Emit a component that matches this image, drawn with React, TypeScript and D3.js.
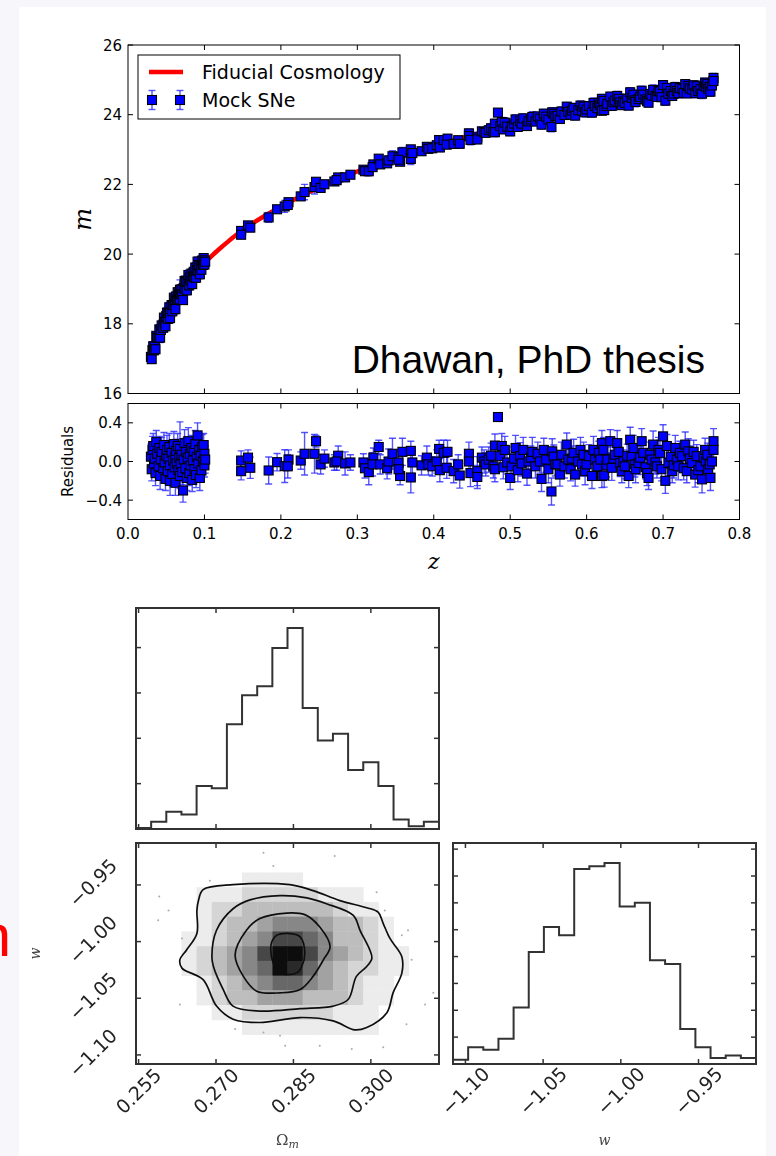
import React from "react";
import * as d3 from "d3";

// ---------- Top panel: Hubble diagram ----------
const zTicks = [0.0, 0.1, 0.2, 0.3, 0.4, 0.5, 0.6, 0.7, 0.8];
const mTicks = [16, 18, 20, 22, 24, 26];
const resTicks = [-0.4, 0.0, 0.4];

// fiducial cosmology curve (z, m)
const fidZ = [0.03, 0.04, 0.05, 0.06, 0.07, 0.08, 0.09, 0.1, 0.125, 0.15, 0.2, 0.25, 0.3, 0.35, 0.4, 0.45, 0.5, 0.55, 0.6, 0.65, 0.7, 0.767];
const fidM = [17.0, 17.65, 18.16, 18.57, 18.92, 19.22, 19.49, 19.74, 20.25, 20.69, 21.36, 21.91, 22.37, 22.76, 23.1, 23.41, 23.69, 23.94, 24.18, 24.39, 24.59, 24.85];

// mock SNe: [z, residual, error]
const snLowZ: [number, number, number][] = [
  [0.030, 0.05, 0.13], [0.031, -0.08, 0.12], [0.032, 0.12, 0.14], [0.033, 0.16, 0.13], [0.034, -0.02, 0.12],
  [0.035, 0.03, 0.15], [0.036, -0.12, 0.13], [0.037, 0.20, 0.12], [0.038, 0.08, 0.14], [0.040, -0.05, 0.13],
  [0.041, 0.14, 0.12], [0.042, -0.15, 0.14], [0.043, 0.02, 0.13], [0.044, 0.10, 0.15], [0.046, -0.07, 0.12],
  [0.047, 0.17, 0.13], [0.048, -0.01, 0.14], [0.049, -0.18, 0.12], [0.050, 0.06, 0.13], [0.051, 0.12, 0.15],
  [0.052, -0.10, 0.13], [0.053, 0.03, 0.12], [0.054, 0.15, 0.14], [0.055, -0.04, 0.13], [0.055, -0.20, 0.15],
  [0.057, 0.09, 0.12], [0.058, -0.13, 0.13], [0.059, 0.01, 0.14], [0.060, 0.18, 0.13], [0.061, -0.06, 0.12],
  [0.062, 0.05, 0.15], [0.062, -0.22, 0.13], [0.063, 0.11, 0.12], [0.064, -0.02, 0.14], [0.065, 0.16, 0.13],
  [0.066, -0.09, 0.12], [0.067, 0.04, 0.15], [0.068, -0.15, 0.13], [0.068, 0.13, 0.28], [0.069, -0.03, 0.12],
  [0.070, 0.07, 0.14], [0.071, -0.11, 0.13], [0.072, -0.30, 0.12], [0.073, 0.02, 0.13], [0.074, 0.19, 0.14],
  [0.075, -0.07, 0.12], [0.076, 0.10, 0.15], [0.077, -0.17, 0.13], [0.078, 0.04, 0.12], [0.079, 0.21, 0.14],
  [0.080, -0.12, 0.13], [0.081, 0.08, 0.12], [0.082, -0.04, 0.15], [0.083, 0.14, 0.13], [0.084, -0.19, 0.12],
  [0.085, 0.01, 0.14], [0.086, 0.11, 0.13], [0.087, -0.08, 0.12], [0.088, 0.18, 0.14], [0.089, -0.14, 0.13],
  [0.090, 0.05, 0.12], [0.091, 0.27, 0.13], [0.092, -0.02, 0.14], [0.093, 0.12, 0.12], [0.094, -0.17, 0.13],
  [0.095, 0.06, 0.15], [0.096, -0.09, 0.12], [0.097, 0.15, 0.13], [0.098, 0.00, 0.14], [0.099, 0.17, 0.12],
  [0.100, 0.08, 0.13], [0.100, -0.04, 0.12], [0.101, 0.02, 0.14],
];

const snMidZ: [number, number, number][] = [
  [0.148, 0.01, 0.10], [0.148, -0.10, 0.09], [0.157, 0.04, 0.08], [0.160, -0.065, 0.11], [0.184, -0.093, 0.14],
  [0.195, -0.007, 0.09], [0.205, -0.048, 0.17], [0.210, 0.02, 0.10], [0.209, -0.05, 0.12], [0.226, 0.01, 0.09],
  [0.231, 0.08, 0.22], [0.244, 0.08, 0.20], [0.246, 0.21, 0.06], [0.252, -0.03, 0.10], [0.257, 0.03, 0.09],
  [0.270, -0.01, 0.08], [0.275, 0.06, 0.10], [0.273, 0.00, 0.09], [0.284, -0.02, 0.12], [0.291, -0.01, 0.08],
  [0.308, -0.01, 0.09], [0.310, -0.07, 0.10], [0.315, -0.11, 0.13], [0.321, 0.04, 0.10], [0.320, -0.03, 0.12],
  [0.328, 0.15, 0.07], [0.330, -0.03, 0.10], [0.339, -0.07, 0.11], [0.341, 0.00, 0.13], [0.346, 0.08, 0.16],
  [0.354, -0.01, 0.12], [0.356, -0.15, 0.09], [0.359, 0.10, 0.14], [0.354, -0.08, 0.10], [0.370, 0.11, 0.10],
  [0.370, -0.165, 0.16], [0.372, -0.01, 0.12], [0.384, -0.04, 0.10], [0.391, 0.04, 0.12], [0.393, -0.03, 0.11],
  [0.398, -0.05, 0.10], [0.404, 0.00, 0.12], [0.407, 0.13, 0.09], [0.408, -0.09, 0.12], [0.413, 0.09, 0.13],
];

const snHighZ: [number, number, number][] = [
  [0.418, 0.10, 0.12], [0.417, -0.065, 0.11], [0.426, -0.10, 0.12], [0.432, -0.03, 0.10], [0.434, -0.145, 0.13],
  [0.446, 0.08, 0.12], [0.446, 0.00, 0.11], [0.448, -0.12, 0.14], [0.457, -0.10, 0.15], [0.457, -0.16, 0.12],
  [0.463, 0.04, 0.11], [0.466, 0.00, 0.12], [0.468, -0.03, 0.12], [0.472, 0.02, 0.13], [0.475, 0.06, 0.13],
  [0.478, -0.05, 0.12], [0.480, 0.165, 0.12], [0.480, -0.08, 0.13], [0.484, 0.46, 0.03], [0.487, 0.055, 0.12],
  [0.489, 0.16, 0.13], [0.491, -0.06, 0.12], [0.493, 0.12, 0.14], [0.496, -0.01, 0.12], [0.500, -0.17, 0.12],
  [0.502, -0.05, 0.13], [0.505, 0.03, 0.12], [0.507, 0.14, 0.13], [0.510, -0.09, 0.12], [0.513, 0.055, 0.14],
  [0.515, -0.02, 0.13], [0.517, 0.12, 0.13], [0.522, -0.125, 0.12], [0.524, 0.00, 0.13], [0.527, 0.04, 0.12],
  [0.529, 0.10, 0.15], [0.533, -0.05, 0.12], [0.536, 0.08, 0.12], [0.539, 0.00, 0.12], [0.541, -0.18, 0.13],
  [0.544, 0.12, 0.12], [0.547, 0.02, 0.13], [0.550, -0.08, 0.14], [0.554, -0.31, 0.14], [0.555, 0.105, 0.13],
  [0.557, 0.05, 0.12], [0.559, -0.03, 0.12], [0.562, -0.03, 0.11], [0.565, -0.135, 0.12], [0.567, 0.07, 0.13],
  [0.571, -0.05, 0.12], [0.574, 0.175, 0.12], [0.576, 0.02, 0.13], [0.579, -0.08, 0.12], [0.581, 0.03, 0.13],
  [0.583, 0.09, 0.14], [0.585, -0.135, 0.12], [0.589, 0.00, 0.12], [0.592, 0.12, 0.13], [0.594, -0.03, 0.12],
  [0.596, 0.07, 0.13], [0.598, -0.10, 0.14], [0.600, -0.03, 0.12], [0.603, 0.055, 0.12], [0.607, -0.15, 0.13],
  [0.609, 0.12, 0.14], [0.611, 0.02, 0.13], [0.614, -0.05, 0.12], [0.616, 0.09, 0.12], [0.618, 0.02, 0.13],
  [0.620, 0.19, 0.13], [0.620, -0.15, 0.12],
];

const snEdgeZ: [number, number, number][] = [
  [0.622, 0.12, 0.13], [0.623, -0.145, 0.12], [0.626, -0.04, 0.12], [0.627, 0.02, 0.13], [0.631, 0.21, 0.12],
  [0.633, -0.065, 0.13], [0.635, 0.03, 0.12], [0.637, 0.07, 0.12], [0.640, 0.19, 0.13], [0.642, 0.10, 0.13],
  [0.644, -0.015, 0.14], [0.646, -0.10, 0.12], [0.648, 0.00, 0.12], [0.650, -0.05, 0.13], [0.653, 0.06, 0.12],
  [0.655, -0.15, 0.12], [0.657, 0.225, 0.13], [0.659, 0.055, 0.12], [0.661, 0.14, 0.13], [0.663, -0.03, 0.13],
  [0.664, -0.08, 0.14], [0.668, -0.015, 0.12], [0.670, 0.04, 0.12], [0.672, 0.21, 0.13], [0.674, 0.09, 0.12],
  [0.677, -0.06, 0.12], [0.679, -0.12, 0.13], [0.681, -0.17, 0.12], [0.683, 0.07, 0.13], [0.685, 0.02, 0.13],
  [0.687, 0.175, 0.14], [0.690, -0.01, 0.12], [0.692, -0.05, 0.12], [0.694, 0.12, 0.13], [0.696, 0.09, 0.13],
  [0.698, -0.08, 0.12], [0.700, 0.26, 0.12], [0.703, -0.20, 0.13], [0.705, 0.16, 0.12], [0.707, -0.015, 0.13],
  [0.710, 0.05, 0.12], [0.712, -0.10, 0.12], [0.714, -0.04, 0.13], [0.716, 0.14, 0.13], [0.718, 0.02, 0.12],
  [0.720, -0.05, 0.14], [0.722, 0.09, 0.12], [0.725, 0.055, 0.12], [0.727, -0.07, 0.12], [0.729, 0.175, 0.13],
  [0.731, -0.10, 0.12], [0.733, 0.105, 0.13], [0.735, 0.03, 0.13], [0.738, -0.015, 0.12], [0.740, 0.10, 0.12],
  [0.742, -0.135, 0.13], [0.744, 0.055, 0.12], [0.746, -0.09, 0.13], [0.749, -0.05, 0.13], [0.751, -0.185, 0.14],
  [0.753, 0.04, 0.12], [0.755, 0.12, 0.12], [0.756, 0.00, 0.13], [0.758, 0.07, 0.12], [0.759, -0.08, 0.12],
  [0.761, -0.03, 0.13], [0.762, -0.17, 0.13], [0.764, 0.00, 0.12], [0.766, 0.21, 0.13], [0.766, 0.12, 0.12],
];

// ---------- Corner plot ----------
const omLim = [0.2545, 0.3132];
const wLim = [-1.108, -0.913];
const omTicks = [0.255, 0.27, 0.285, 0.3];
const omTickLabels = ["0.255", "0.270", "0.285", "0.300"];
const wTicks = [-1.1, -1.05, -1.0, -0.95];
const wTickLabels = ["\u22121.10", "\u22121.05", "\u22121.00", "\u22120.95"];

const omHistCounts = [2, 16, 38, 32, 95, 90, 231, 295, 315, 399, 443, 267, 195, 210, 130, 147, 95, 21, 6, 16];
const wHistCounts = [16, 62, 53, 94, 210, 417, 510, 479, 726, 736, 748, 586, 600, 386, 372, 130, 62, 22, 32, 22];
const omHistTicks = [0, 100, 200, 300, 400];
const wHistTicks = [0, 100, 200, 300, 400, 500, 600, 700, 800];

// 2D density (rows from top = high w, columns from low Ωm), grey level 0..9
const densityRows = [
  "00000000000000000000",
  "00000000000000000000",
  "00000001111000000000",
  "00001112222211100000",
  "00001223333332110000",
  "00001233455543321000",
  "00011234577653321000",
  "00012345799754321100",
  "00012345698643221100",
  "00001234566543211000",
  "00001233444333211000",
  "00000112222221110000",
  "00000001111111110000",
  "00000000000000000000",
  "00000000000000000000",
];

// contour lines [Ωm, w], outermost first
const contourOuter: [number, number][] = [
  [0.2666, -0.9638], [0.2675, -0.9542], [0.2733, -0.9498], [0.2843, -0.9498], [0.2888, -0.955], [0.294, -0.9638],
  [0.2992, -0.9701], [0.3014, -0.974], [0.3024, -0.9841], [0.3037, -0.9972], [0.306, -1.0133], [0.306, -1.0278],
  [0.3043, -1.0452], [0.3031, -1.0627], [0.2992, -1.0758], [0.2969, -1.0779], [0.2927, -1.07], [0.2863, -1.067],
  [0.2785, -1.0714], [0.2733, -1.0685], [0.2701, -1.0569], [0.2675, -1.0336], [0.2634, -1.0234], [0.263, -1.0161],
  [0.2643, -1.0074], [0.2663, -0.9928], [0.2663, -0.9725],
];
const contourMid2: [number, number][] = [
  [0.2692, -1.0133], [0.2701, -0.99], [0.2733, -0.971], [0.2766, -0.9632], [0.2824, -0.9594], [0.2876, -0.9614],
  [0.2914, -0.9666], [0.2966, -0.9769], [0.2979, -0.99], [0.2998, -1.0074], [0.3002, -1.0147], [0.2992, -1.022],
  [0.2972, -1.0307], [0.2956, -1.0511], [0.2927, -1.0569], [0.2863, -1.0592], [0.2785, -1.0613], [0.2733, -1.0569],
  [0.2714, -1.0423], [0.2695, -1.022],
];
const contourMid1: [number, number][] = [
  [0.2737, -1.0118], [0.2759, -0.99], [0.2785, -0.9797], [0.2837, -0.9748], [0.2872, -0.9762], [0.2901, -0.9871],
  [0.2921, -1.0045], [0.2908, -1.0161], [0.2888, -1.0307], [0.2863, -1.0423], [0.2824, -1.0452], [0.2779, -1.0438],
  [0.2753, -1.0307],
];
const contourInner: [number, number][] = [
  [0.2808, -1.0002], [0.2818, -0.9943], [0.284, -0.9928], [0.2863, -0.9958], [0.2872, -1.0103], [0.2866, -1.022],
  [0.2856, -1.0278], [0.2824, -1.0278], [0.2811, -1.019], [0.2806, -1.0074],
];

// faint individual samples outside the contours
const outlierSamples: [number, number][] = [
  [0.2792, -0.9216], [0.293, -0.9245], [0.2811, -0.9332], [0.2688, -0.9463], [0.3011, -0.9565], [0.259, -0.9603],
  [0.2608, -0.9725], [0.2588, -0.9812], [0.3072, -0.99], [0.3079, -1.0161], [0.3121, -1.0452], [0.263, -1.0554],
  [0.3105, -1.0554], [0.2737, -1.0772], [0.2792, -1.0801], [0.2824, -1.0831], [0.2901, -1.0918], [0.2834, -1.0918],
  [0.2963, -1.0947], [0.3024, -1.0932], [0.3069, -1.0729], [0.3027, -0.9725], [0.306, -0.9943], [0.2634, -0.9972],
];

// ---------- geometry ----------
const W = 776;
const H = 1156;
const TOP = { l: 128, r: 739.5, t: 45, b: 393.5 };
const RES = { t: 403.5, b: 519.5 };
const C_HIST_OM = { l: 136, r: 439, t: 608, b: 829 };
const C_2D = { l: 136, r: 439, t: 843, b: 1064 };
const C_HIST_W = { l: 453, r: 756, t: 843, b: 1064 };

const SANS = "'DejaVu Sans', 'Bitstream Vera Sans', sans-serif";
const SERIF = "'DejaVu Serif', 'Liberation Serif', serif";

function fmt1(v: number) {
  const s = Math.abs(v).toFixed(1);
  return v < -1e-9 ? "\u2212" + s : s;
}

function Frame({ box, stroke = "#000", width = 1 }: any) {
  return (
    <rect x={box.l} y={box.t} width={box.r - box.l} height={box.b - box.t} fill="none" stroke={stroke} strokeWidth={width} />
  );
}

function XTicks({ scale, ticks, box, len = 5, stroke = "#000", width = 1 }: any) {
  return (
    <g stroke={stroke} strokeWidth={width}>
      {ticks.map((t: number, i: number) => {
        const x = scale(t);
        if (x < box.l + 0.5 || x > box.r - 0.5) return null;
        return (
          <g key={i}>
            <line x1={x} x2={x} y1={box.b} y2={box.b - len} />
            <line x1={x} x2={x} y1={box.t} y2={box.t + len} />
          </g>
        );
      })}
    </g>
  );
}

function YTicks({ scale, ticks, box, len = 5, stroke = "#000", width = 1 }: any) {
  return (
    <g stroke={stroke} strokeWidth={width}>
      {ticks.map((t: number, i: number) => {
        const y = scale(t);
        return (
          <g key={i}>
            <line x1={box.l} x2={box.l + len} y1={y} y2={y} />
            <line x1={box.r} x2={box.r - len} y1={y} y2={y} />
          </g>
        );
      })}
    </g>
  );
}

export default function App() {
  const allSN = [...snLowZ, ...snMidZ, ...snHighZ, ...snEdgeZ];

  const xTop = d3.scaleLinear().domain([0, 0.8]).range([TOP.l, TOP.r]);
  const yTop = d3.scaleLinear().domain([16, 26]).range([TOP.b, TOP.t]);
  const yRes = d3.scaleLinear().domain([-0.6, 0.6]).range([RES.b, RES.t]);
  const fidInterp = d3.scaleLinear().domain(fidZ).range(fidM);

  const fidLine = d3
    .line<number>()
    .x((_, i) => xTop(fidZ[i]))
    .y((_, i) => yTop(fidM[i]))
    .curve(d3.curveMonotoneX)(fidZ);

  const omX = d3.scaleLinear().domain(omLim).range([C_2D.l, C_2D.r]);
  const wY = d3.scaleLinear().domain(wLim).range([C_2D.b, C_2D.t]);
  const wX = d3.scaleLinear().domain(wLim).range([C_HIST_W.l, C_HIST_W.r]);
  const omHistY = d3.scaleLinear().domain([0, d3.max(omHistCounts)! * 1.1]).range([C_HIST_OM.b, C_HIST_OM.t]);
  const wHistY = d3.scaleLinear().domain([0, d3.max(wHistCounts)! * 1.1]).range([C_HIST_W.b, C_HIST_W.t]);

  const grey = d3
    .scaleLinear<string>()
    .domain([0, 1, 3, 5, 7, 9])
    .range(["#ffffff", "#ececec", "#bdbdbd", "#878787", "#474747", "#0a0a0a"]);

  const nCols = densityRows[0].length;
  const nRows = densityRows.length;
  const omStep = (omLim[1] - omLim[0]) / nCols;
  const wStep = (wLim[1] - wLim[0]) / nRows;

  const stepPath = (counts: number[], lim: number[], sx: any, sy: any) => {
    const n = counts.length;
    const step = (lim[1] - lim[0]) / n;
    const pts: [number, number][] = [[sx(lim[0]), sy(0)]];
    counts.forEach((c, i) => {
      pts.push([sx(lim[0] + i * step), sy(c)]);
      pts.push([sx(lim[0] + (i + 1) * step), sy(c)]);
    });
    pts.push([sx(lim[1]), sy(0)]);
    return d3.line()(pts);
  };

  const contourPath = (pts: [number, number][]) =>
    d3
      .line<[number, number]>()
      .x((d) => omX(d[0]))
      .y((d) => wY(d[1]))
      .curve(d3.curveCatmullRomClosed.alpha(0.5))(pts);

  const barColor = "#2b2bff";
  const capW = 3.5;
  const sq = 9;

  const renderErrBars = (errScale: (d: [number, number, number]) => [number, number]) =>
    allSN.map((d, i) => {
      const x = xTop(d[0]);
      const [lo, hi] = errScale(d);
      return (
        <g key={i}>
          <line x1={x} x2={x} y1={lo} y2={hi} />
          <line x1={x - capW} x2={x + capW} y1={lo} y2={lo} />
          <line x1={x - capW} x2={x + capW} y1={hi} y2={hi} />
        </g>
      );
    });

  const cornerStroke = "#333";

  return (
    <svg
      width={W}
      height={H}
      viewBox={`0 0 ${W} ${H}`}
      style={{ position: "absolute", left: 0, top: 0, display: "block" }}
    >
      <defs>
        <filter id="soft" x="-5%" y="-5%" width="110%" height="110%">
          <feGaussianBlur stdDeviation="0.55" />
        </filter>
        <clipPath id="clipTop">
          <rect x={TOP.l} y={TOP.t} width={TOP.r - TOP.l} height={TOP.b - TOP.t} />
        </clipPath>
        <clipPath id="clipRes">
          <rect x={TOP.l} y={RES.t} width={TOP.r - TOP.l} height={RES.b - RES.t} />
        </clipPath>
        <clipPath id="clip2d">
          <rect x={C_2D.l} y={C_2D.t} width={C_2D.r - C_2D.l} height={C_2D.b - C_2D.t} />
        </clipPath>
      </defs>

      <rect x={0} y={0} width={W} height={H} fill="#f7f7fb" />
      <rect x={19} y={7} width={747} height={H - 7} fill="#ffffff" />

      {/* red partial glyph at the far left */}
      <text x={11} y={956} textAnchor="end" fontFamily="'Liberation Sans', Arial, sans-serif" fontSize={60} fill="#ff0000">
        n
      </text>

      {/* ================= TOP PANEL ================= */}
      <rect x={TOP.l} y={TOP.t} width={TOP.r - TOP.l} height={TOP.b - TOP.t} fill="#fff" />
      <g clipPath="url(#clipTop)">
        <path d={fidLine || ""} fill="none" stroke="#ff0000" strokeWidth={4.5} />
        <g stroke={barColor} strokeOpacity={0.8} strokeWidth={1.4}>
          {renderErrBars((d) => {
            const m = fidInterp(d[0]) + d[1];
            return [yTop(m - d[2]), yTop(m + d[2])];
          })}
        </g>
        <g fill="#0000ff" stroke="#000" strokeWidth={1.1}>
          {allSN.map((d, i) => {
            const x = xTop(d[0]);
            const y = yTop(fidInterp(d[0]) + d[1]);
            return <rect key={i} x={x - sq / 2} y={y - sq / 2} width={sq} height={sq} />;
          })}
        </g>
      </g>
      <XTicks scale={xTop} ticks={zTicks} box={TOP} />
      <YTicks scale={yTop} ticks={mTicks} box={TOP} />
      <Frame box={TOP} />
      <g fontFamily={SANS} fontSize={15} fill="#000" textAnchor="end">
        {mTicks.map((t) => (
          <text key={t} x={TOP.l - 6} y={yTop(t) + 5.5}>
            {t}
          </text>
        ))}
      </g>
      <text
        transform={`translate(${91},${(TOP.t + TOP.b) / 2}) rotate(-90)`}
        textAnchor="middle"
        fontFamily={SERIF}
        fontStyle="italic"
        fontSize={24}
      >
        m
      </text>
      <text x={705} y={373} textAnchor="end" fontFamily="'Liberation Sans', Arial, Helvetica, sans-serif" fontSize={39} fill="#000">
        Dhawan, PhD thesis
      </text>

      {/* legend */}
      <g>
        <rect x={138} y={55} width={262} height={64} fill="#fff" stroke="#000" strokeWidth={1} />
        <line x1={149} x2={183} y1={72} y2={72} stroke="#ff0000" strokeWidth={4.5} />
        <text x={202} y={79} fontFamily={SANS} fontSize={19}>
          Fiducial Cosmology
        </text>
        <g stroke={barColor} strokeOpacity={0.8} strokeWidth={1.4}>
          {[152, 180].map((x) => (
            <g key={x}>
              <line x1={x} x2={x} y1={90.5} y2={109.5} />
              <line x1={x - capW} x2={x + capW} y1={90.5} y2={90.5} />
              <line x1={x - capW} x2={x + capW} y1={109.5} y2={109.5} />
            </g>
          ))}
        </g>
        <g fill="#0000ff" stroke="#000" strokeWidth={1.1}>
          {[152, 180].map((x) => (
            <rect key={x} x={x - sq / 2} y={100 - sq / 2} width={sq} height={sq} />
          ))}
        </g>
        <text x={202} y={107} fontFamily={SANS} fontSize={19}>
          Mock SNe
        </text>
      </g>

      {/* ================= RESIDUAL PANEL ================= */}
      <rect x={TOP.l} y={RES.t} width={TOP.r - TOP.l} height={RES.b - RES.t} fill="#fff" />
      <g clipPath="url(#clipRes)">
        <g stroke={barColor} strokeOpacity={0.8} strokeWidth={1.4}>
          {renderErrBars((d) => [yRes(d[1] - d[2]), yRes(d[1] + d[2])])}
        </g>
        <g fill="#0000ff" stroke="#000" strokeWidth={1.1}>
          {allSN.map((d, i) => {
            const x = xTop(d[0]);
            const y = yRes(d[1]);
            return <rect key={i} x={x - sq / 2} y={y - sq / 2} width={sq} height={sq} />;
          })}
        </g>
      </g>
      <XTicks scale={xTop} ticks={zTicks} box={{ l: TOP.l, r: TOP.r, t: RES.t, b: RES.b }} />
      <YTicks scale={yRes} ticks={resTicks} box={{ l: TOP.l, r: TOP.r, t: RES.t, b: RES.b }} />
      <rect x={TOP.l} y={RES.t} width={TOP.r - TOP.l} height={RES.b - RES.t} fill="none" stroke="#000" strokeWidth={1} />
      <g fontFamily={SANS} fontSize={15} fill="#000" textAnchor="end">
        {resTicks.map((t) => (
          <text key={t} x={TOP.l - 6} y={yRes(t) + 5.5}>
            {fmt1(t)}
          </text>
        ))}
      </g>
      <g fontFamily={SANS} fontSize={15} fill="#000" textAnchor="middle">
        {zTicks.map((t) => (
          <text key={t} x={xTop(t)} y={539}>
            {t.toFixed(1)}
          </text>
        ))}
      </g>
      <text
        transform={`translate(${73},${(RES.t + RES.b) / 2}) rotate(-90)`}
        textAnchor="middle"
        fontFamily={SANS}
        fontSize={15}
      >
        Residuals
      </text>
      <text x={(TOP.l + TOP.r) / 2} y={569} textAnchor="middle" fontFamily={SERIF} fontStyle="italic" fontSize={22}>
        z
      </text>

      {/* ================= CORNER PLOT ================= */}
      <g filter="url(#soft)">
        {/* 1D Ωm histogram */}
        <rect x={C_HIST_OM.l} y={C_HIST_OM.t} width={C_HIST_OM.r - C_HIST_OM.l} height={C_HIST_OM.b - C_HIST_OM.t} fill="#fff" />
        <path d={stepPath(omHistCounts, omLim, omX, omHistY) || ""} fill="none" stroke={cornerStroke} strokeWidth={2} />
        <XTicks scale={omX} ticks={omTicks} box={C_HIST_OM} len={5} stroke={cornerStroke} width={1.5} />
        <YTicks scale={omHistY} ticks={omHistTicks} box={C_HIST_OM} len={5} stroke={cornerStroke} width={1.5} />
        <Frame box={C_HIST_OM} stroke={cornerStroke} width={2} />

        {/* 2D density */}
        <rect x={C_2D.l} y={C_2D.t} width={C_2D.r - C_2D.l} height={C_2D.b - C_2D.t} fill="#fff" />
        <g clipPath="url(#clip2d)">
          {densityRows.map((row, r) =>
            row.split("").map((ch, c) => {
              const v = +ch;
              if (v === 0) return null;
              const om0 = omLim[0] + c * omStep;
              const wTop = wLim[1] - r * wStep;
              const x0 = omX(om0);
              const x1 = omX(om0 + omStep);
              const y0 = wY(wTop);
              const y1 = wY(wTop - wStep);
              return (
                <rect key={`${r}-${c}`} x={x0} y={y0} width={x1 - x0 + 0.4} height={y1 - y0 + 0.4} fill={grey(v)} />
              );
            })
          )}
          <g fill="#aaaaaa">
            {outlierSamples.map((d, i) => (
              <circle key={i} cx={omX(d[0])} cy={wY(d[1])} r={1} />
            ))}
          </g>
          <g fill="none" stroke="#111" strokeWidth={1.7}>
            {[contourOuter, contourMid2, contourMid1, contourInner].map((c, i) => (
              <path key={i} d={contourPath(c) || ""} />
            ))}
          </g>
        </g>
        <XTicks scale={omX} ticks={omTicks} box={C_2D} len={5} stroke={cornerStroke} width={1.5} />
        <YTicks scale={wY} ticks={wTicks} box={C_2D} len={5} stroke={cornerStroke} width={1.5} />
        <Frame box={C_2D} stroke={cornerStroke} width={2} />

        {/* 1D w histogram */}
        <rect x={C_HIST_W.l} y={C_HIST_W.t} width={C_HIST_W.r - C_HIST_W.l} height={C_HIST_W.b - C_HIST_W.t} fill="#fff" />
        <path d={stepPath(wHistCounts, wLim, wX, wHistY) || ""} fill="none" stroke={cornerStroke} strokeWidth={2} />
        <XTicks scale={wX} ticks={wTicks} box={C_HIST_W} len={5} stroke={cornerStroke} width={1.5} />
        <YTicks scale={wHistY} ticks={wHistTicks} box={C_HIST_W} len={5} stroke={cornerStroke} width={1.5} />
        <Frame box={C_HIST_W} stroke={cornerStroke} width={2} />

        {/* tick labels */}
        <g fontFamily={SANS} fontSize={19} fill="#222" textAnchor="middle">
          {omTicks.map((t, i) => (
            <text key={"om" + i} transform={`translate(${omX(t)},${1091}) rotate(-45)`} dy="0.35em">
              {omTickLabels[i]}
            </text>
          ))}
          {wTicks.map((t, i) => (
            <text key={"wx" + i} transform={`translate(${wX(t)},${1091}) rotate(-45)`} dy="0.35em">
              {wTickLabels[i]}
            </text>
          ))}
          {wTicks.map((t, i) => (
            <text key={"wy" + i} transform={`translate(${93},${wY(t) - 2}) rotate(-45)`} dy="0.35em">
              {wTickLabels[i]}
            </text>
          ))}
        </g>

        {/* axis labels */}
        <text x={(C_2D.l + C_2D.r) / 2} y={1145} textAnchor="middle" fontFamily={SERIF} fontSize={15} fill="#444">
          {"\u03A9"}
          <tspan fontStyle="italic" fontSize={11} dy={3}>
            m
          </tspan>
        </text>
        <text x={(C_HIST_W.l + C_HIST_W.r) / 2} y={1145} textAnchor="middle" fontFamily={SERIF} fontStyle="italic" fontSize={14} fill="#444">
          w
        </text>
        <text
          transform={`translate(${40},${(C_2D.t + C_2D.b) / 2}) rotate(-90)`}
          textAnchor="middle"
          fontFamily={SERIF}
          fontStyle="italic"
          fontSize={14}
          fill="#444"
        >
          w
        </text>
      </g>
    </svg>
  );
}
